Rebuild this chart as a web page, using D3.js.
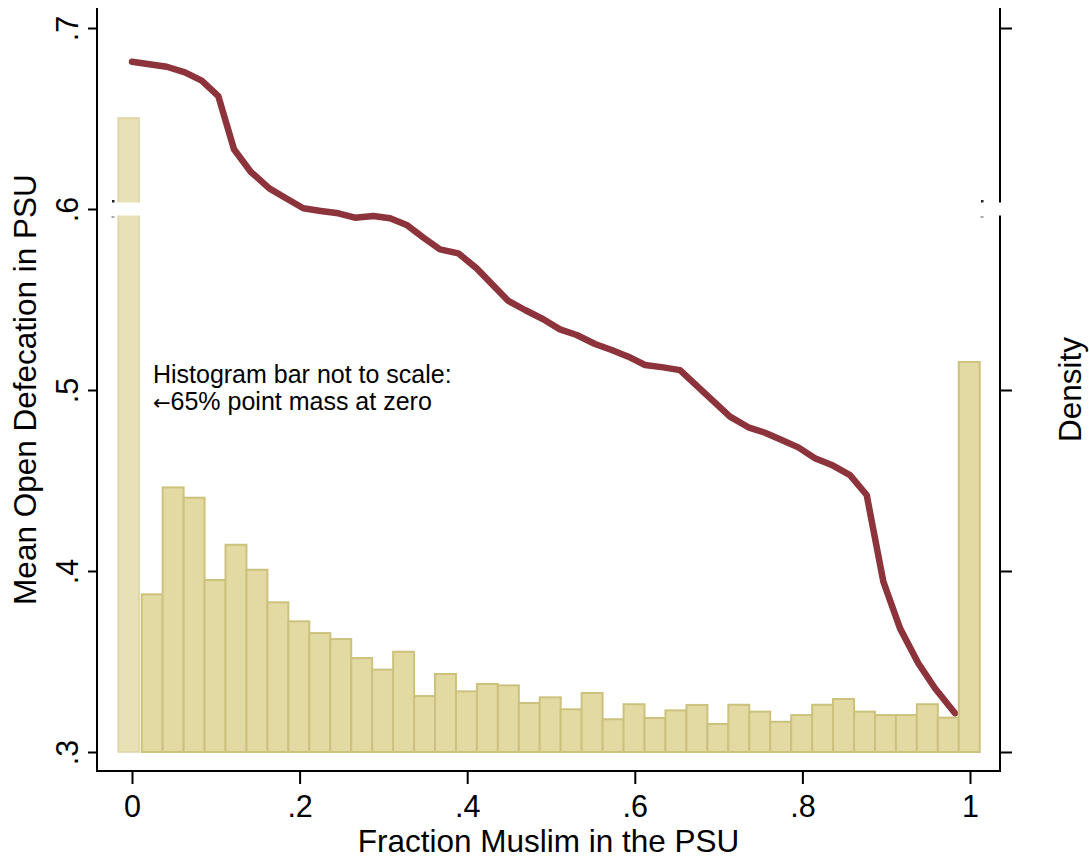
<!DOCTYPE html>
<html>
<head>
<meta charset="utf-8">
<script src="https://cdn.jsdelivr.net/npm/d3@7/dist/d3.min.js"></script>
<style>
  html, body { margin: 0; padding: 0; background: #fff; }
  svg { display: block; font-family: "Liberation Sans", Arial, sans-serif; }
</style>
</head>
<body>
<svg id="chart" width="1089" height="858"></svg>
<script>
// ---------- DATA ----------
// Histogram (right axis, density); bins of width 0.025
const binStart = 0.0116;
const binWidth = 0.025;
const histDensity = [
  0.871, 1.462, 1.405, 0.950, 1.145, 1.007, 0.827, 0.722, 0.657, 0.624,
  0.519, 0.455, 0.554, 0.309, 0.431, 0.335, 0.376, 0.368, 0.271, 0.302,
  0.236, 0.326, 0.181, 0.264, 0.188, 0.230, 0.260, 0.155, 0.261, 0.223,
  0.167, 0.204, 0.261, 0.293, 0.223, 0.204, 0.204, 0.264, 0.190, 2.155
];
// Point-mass bar at zero (drawn truncated, not to scale)
const zeroBarCenter = -0.004;
const zeroBarDisplay = 3.503;

// Mean open defecation curve (left axis)
const curveX = [0, 0.0414, 0.0632, 0.0832, 0.103, 0.1217, 0.1416, 0.1638, 0.1838, 0.2044,
  0.2252, 0.2462, 0.2661, 0.2879, 0.3079, 0.3278, 0.3473, 0.3675, 0.3894, 0.4113,
  0.4491, 0.469, 0.4908, 0.5107, 0.5307, 0.5525, 0.5724, 0.5923, 0.6122, 0.634,
  0.6539, 0.6937, 0.7136, 0.7355, 0.7554, 0.7753, 0.7951, 0.815, 0.835, 0.8568,
  0.8767, 0.8966, 0.9165, 0.9383, 0.9582, 0.9821];
const curveY = [0.6814, 0.6786, 0.6755, 0.6709, 0.6624, 0.6330, 0.6206, 0.6114, 0.6059, 0.6004,
  0.5989, 0.5976, 0.5952, 0.5961, 0.5949, 0.5912, 0.5843, 0.5777, 0.5755, 0.5672,
  0.5492, 0.5442, 0.5391, 0.5335, 0.5304, 0.5254, 0.5221, 0.5184, 0.5138, 0.5125,
  0.5110, 0.4939, 0.4853, 0.4794, 0.4764, 0.4724, 0.4683, 0.4623, 0.4586, 0.4530,
  0.4420, 0.3941, 0.3683, 0.3490, 0.3352, 0.3214];

const xTicks = [0, 0.2, 0.4, 0.6, 0.8, 1];
const xTickLabels = ["0", ".2", ".4", ".6", ".8", "1"];
const yTicks = [0.3, 0.4, 0.5, 0.6, 0.7];
const yTickLabels = [".3", ".4", ".5", ".6", ".7"];
const densityTicks = [0, 1, 2, 3, 4];

const xTitle = "Fraction Muslim in the PSU";
const yTitle = "Mean Open Defecation in PSU";
const y2Title = "Density";
const noteArrow = "\u2190";
const noteLines = ["Histogram bar not to scale:", "65% point mass at zero"];

// ---------- LAYOUT ----------
const frame = { left: 97, right: 1000, top: 8, bottom: 771 };
const svg = d3.select("#chart");

const x = d3.scaleLinear().domain([0, 1]).range([frame.left + 35, frame.right - 30]);
const y = d3.scaleLinear().domain([0.3, 0.7]).range([frame.bottom - 19, frame.top + 20]);
const yD = d3.scaleLinear().domain([0, 4]).range([frame.bottom - 19, frame.top + 20]);

const lineColor = "#8c333b";
const barFill = "#e3d9a3";
const barStroke = "#ccc27d";
const titleSize = 31.5;
const tickSize = 30.5;

// curve
const pts = curveX.map((v, i) => [v, curveY[i]]);
svg.append("path")
  .datum(pts)
  .attr("fill", "none")
  .attr("stroke", lineColor)
  .attr("stroke-width", 6.5)
  .attr("stroke-linejoin", "round")
  .attr("stroke-linecap", "round")
  .attr("d", d3.line().x(d => x(d[0])).y(d => y(d[1])));

// histogram bars
const bars = histDensity.map((d, i) => ({ lo: binStart + i * binWidth, d }));
svg.append("g").selectAll("rect").data(bars).join("rect")
  .attr("x", b => x(b.lo))
  .attr("width", b => x(b.lo + binWidth) - x(b.lo))
  .attr("y", b => yD(b.d))
  .attr("height", b => yD(0) - yD(b.d))
  .attr("fill", barFill)
  .attr("stroke", barStroke)
  .attr("stroke-width", 2);

// truncated zero bar
svg.append("rect")
  .attr("x", x(zeroBarCenter - binWidth / 2))
  .attr("width", x(binWidth) - x(0))
  .attr("y", yD(zeroBarDisplay))
  .attr("height", yD(0) - yD(zeroBarDisplay))
  .attr("fill", "#e9e1b6")
  .attr("stroke", "#ddd4a4")
  .attr("stroke-width", 1.5);

// axis break band at .6
const bandY = y(0.6);
[[frame.left + 9, x(0) + 13], [frame.right - 22, frame.right + 15]].forEach(([a, b]) => {
  svg.append("rect").attr("x", a).attr("width", b - a)
    .attr("y", bandY - 6.5).attr("height", 13).attr("fill", "#fff");
});
[frame.left + 16, frame.right - 18].forEach(px => {
  svg.append("rect").attr("x", px - 1).attr("y", bandY - 9).attr("width", 2.5).attr("height", 2.5).attr("fill", "#222");
  svg.append("rect").attr("x", px - 1.5).attr("y", bandY + 7.5).attr("width", 3).attr("height", 1).attr("fill", "#555");
});

// spines
const spine = svg.append("g").attr("stroke", "#000").attr("stroke-width", 2).attr("fill", "none");
spine.append("line").attr("x1", frame.left).attr("x2", frame.left).attr("y1", frame.top).attr("y2", frame.bottom + 1);
spine.append("line").attr("x1", frame.left).attr("x2", frame.right + 1).attr("y1", frame.bottom).attr("y2", frame.bottom);
spine.append("line").attr("x1", frame.right).attr("x2", frame.right).attr("y1", frame.top).attr("y2", bandY - 6.5);
spine.append("line").attr("x1", frame.right).attr("x2", frame.right).attr("y1", bandY + 6.5).attr("y2", frame.bottom + 1);

// left axis
const gL = svg.append("g").attr("transform", `translate(${frame.left},0)`)
  .call(d3.axisLeft(y).tickValues(yTicks).tickSize(9).tickPadding(0)
    .tickFormat((d, i) => yTickLabels[i]));
gL.select(".domain").remove();
gL.selectAll(".tick line").attr("stroke", "#000").attr("stroke-width", 2);
gL.selectAll(".tick text")
  .attr("font-size", tickSize).attr("fill", "#000")
  .attr("text-anchor", "middle")
  .attr("x", null).attr("dy", null)
  .attr("transform", "translate(-19,0) rotate(-90)")
  .attr("y", 0);

// right axis (density, no labels; the tick at the break is hidden)
const gR = svg.append("g").attr("transform", `translate(${frame.right},0)`)
  .call(d3.axisRight(yD).tickValues(densityTicks.filter(d => d !== 3)).tickSize(12).tickFormat(""));
gR.select(".domain").remove();
gR.selectAll(".tick line").attr("stroke", "#000").attr("stroke-width", 2);

// bottom axis
const gB = svg.append("g").attr("transform", `translate(0,${frame.bottom})`)
  .call(d3.axisBottom(x).tickValues(xTicks).tickSize(13).tickPadding(11)
    .tickFormat((d, i) => xTickLabels[i]));
gB.select(".domain").remove();
gB.selectAll(".tick line").attr("stroke", "#000").attr("stroke-width", 2);
gB.selectAll(".tick text").attr("font-size", tickSize).attr("fill", "#000");

// titles
svg.append("text").attr("x", (frame.left + frame.right) / 2).attr("y", 852)
  .attr("text-anchor", "middle").attr("font-size", titleSize).text(xTitle);
svg.append("text").attr("transform", `translate(36,${(frame.top + frame.bottom) / 2}) rotate(-90)`)
  .attr("text-anchor", "middle").attr("font-size", titleSize).text(yTitle);
svg.append("text").attr("transform", `translate(1081,${(frame.top + frame.bottom) / 2}) rotate(-90)`)
  .attr("text-anchor", "middle").attr("font-size", titleSize).text(y2Title);

// note
const note = svg.append("text").attr("font-size", 25).attr("fill", "#000");
note.append("tspan").attr("x", x(0.025)).attr("y", y(0.5) - 7).text(noteLines[0]);
note.append("tspan").attr("x", x(0.025)).attr("y", y(0.5) + 20)
  .attr("font-family", "'DejaVu Sans'").attr("font-size", 21).text(noteArrow);
note.append("tspan").text(noteLines[1]);
</script>
</body>
</html>
